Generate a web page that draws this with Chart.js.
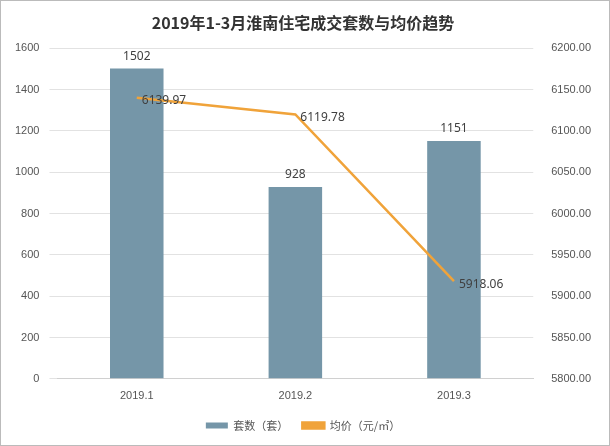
<!DOCTYPE html>
<html>
<head>
<meta charset="utf-8">
<script src="https://cdn.jsdelivr.net/npm/chart.js@4"></script>
<style>
  body { margin: 0; background: #fff; }
  #box { width: 608px; height: 444px; border: 1px solid #bbb; position: relative; }
</style>
</head>
<body>
<div id="box"><canvas id="grafico"></canvas></div>
<script>
const categorias = ['2019.1', '2019.2', '2019.3'];
const taoshu = [1502, 928, 1151];
const junjia = [6139.97, 6119.78, 5918.06];

// rótulos de valor
const rotulos = {
  id: 'rotulos',
  afterDatasetsDraw(chart) {
    const ctx = chart.ctx;
    ctx.save();
    ctx.font = '12px "Noto Sans", sans-serif';
    ctx.fillStyle = '#404040';
    chart.getDatasetMeta(0).data.forEach((el, i) => {
      ctx.textAlign = 'center';
      ctx.textBaseline = 'bottom';
      ctx.fillText(taoshu[i], el.x, el.y - 6);
    });
    chart.getDatasetMeta(1).data.forEach((el, i) => {
      ctx.textAlign = 'left';
      ctx.textBaseline = 'middle';
      ctx.fillText(junjia[i].toFixed(2), el.x + 5, el.y + 3);
    });
    ctx.restore();
  }
};

const ctx = document.getElementById('grafico').getContext('2d');
new Chart(ctx, {
  data: {
    labels: categorias,
    datasets: [{
      type: 'bar',
      label: '套数（套）',
      data: taoshu,
      backgroundColor: '#7596a8',
      yAxisID: 'y',
      barPercentage: 0.45,
      categoryPercentage: 0.75,
      order: 2
    }, {
      type: 'line',
      label: '均价（元/㎡）',
      data: junjia,
      borderColor: '#f0a33a',
      backgroundColor: '#f0a33a',
      borderWidth: 2.5,
      pointRadius: 0,
      tension: 0,
      yAxisID: 'y1',
      order: 1
    }]
  },
  options: {
    responsive: true,
    maintainAspectRatio: false,
    animation: false,
    layout: { padding: { left: 4, right: 8, top: 8, bottom: 4 } },
    scales: {
      x: {
        grid: { display: false },
        border: { color: '#d0d0d0' },
        ticks: { color: '#555', font: { size: 11 } }
      },
      y: {
        min: 0, max: 1600,
        ticks: { stepSize: 200, color: '#555', font: { size: 11 }, padding: 10,
          callback: v => String(v) },
        grid: { color: '#e2e2e2' },
        border: { display: false }
      },
      y1: {
        position: 'right',
        min: 5800, max: 6200,
        ticks: { stepSize: 50, color: '#555', font: { size: 11 }, padding: 10,
          callback: v => v.toFixed(2) },
        grid: { display: false },
        border: { display: false }
      }
    },
    plugins: {
      title: {
        display: true,
        text: '2019年1-3月淮南住宅成交套数与均价趋势',
        color: '#333',
        font: { size: 16, weight: 'bold', family: '"Noto Sans CJK SC", sans-serif' },
        padding: { top: 4, bottom: 16 }
      },
      legend: {
        position: 'bottom',
        labels: {
          boxWidth: 22, boxHeight: 6,
          color: '#555',
          font: { size: 11, family: '"Noto Sans CJK SC", sans-serif' },
          padding: 14,
          sort: (a, b) => a.datasetIndex - b.datasetIndex
        }
      },
      tooltip: { enabled: false }
    }
  },
  plugins: [rotulos]
});
</script>
</body>
</html>
